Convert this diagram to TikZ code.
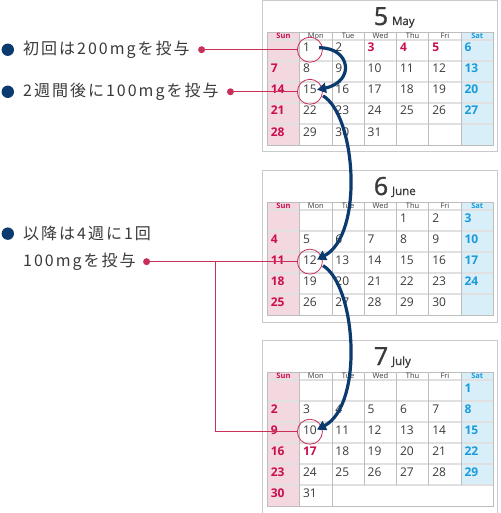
\documentclass[tikz,border=0pt]{standalone}
\usepackage{fontspec}
\setmainfont{Open Sans}
\newfontfamily\jp{Noto Sans CJK JP}[LetterSpace=12.5]
\newfontfamily\ttl{Open Sans}[FakeBold=1.2]
\usetikzlibrary{positioning,arrows.meta}
\definecolor{sunred}{HTML}{C8104E}
\definecolor{satblue}{HTML}{1A9BDB}
\definecolor{sunbg}{HTML}{F3D8E0}
\definecolor{satbg}{HTML}{D8EEF9}
\definecolor{navy}{HTML}{0B3A6F}
\definecolor{leadred}{HTML}{C8305A}
\definecolor{txtgray}{HTML}{3A3A3A}
\definecolor{gridgray}{HTML}{BDBDBD}
\definecolor{bandgray}{HTML}{E0E0E0}
\tikzset{
  sheet/.style={draw=gridgray!80, line width=1pt},
  band/.style={draw=bandgray, line width=2.4pt},
  grid/.style={draw=gridgray, line width=0.7pt},
  wday/.style={inner sep=0pt, font=\fontsize{7.5}{7.5}\selectfont},
  day/.style={anchor=base west, inner sep=0pt, font=\fontsize{12}{12}\selectfont},
  monthnum/.style={anchor=base, inner sep=0pt, text=txtgray, font=\ttl\fontsize{25}{25}\selectfont},
  monthname/.style={anchor=base west, inner sep=0pt, text=txtgray, font=\ttl\fontsize{11.5}{11.5}\selectfont},
  ring/.style={circle, draw=leadred, line width=0.8pt, minimum size=25pt, inner sep=0pt},
  bullet/.style={circle, fill=navy, minimum size=12.4pt, inner sep=0pt},
  reddot/.style={circle, fill=leadred, minimum size=7pt, inner sep=0pt},
  lbl/.style={anchor=west, inner sep=0pt, text=txtgray, font=\jp\fontsize{16}{16}\selectfont},
  lead/.style={draw=leadred, line width=0.8pt},
  jump/.style={draw=navy, line width=3.2pt, -{Triangle[length=9pt,width=10pt]}},
}
\begin{document}
\begin{tikzpicture}[x=1pt, y=-1pt]
\useasboundingbox (0,0) rectangle (500,513);
% the three month sheets
\foreach \ty/\mn/\mname/\off/\days/\rows/\pre in {0/5/May/1/31/5/m, 170/6/June/4/30/5/j, 340/7/July/6/31/6/l}{
  \pgfmathsetmacro\yb{\ty+40+21*\rows}
  \pgfmathtruncatemacro\rl{\rows-1}
  \draw[sheet] (262.5,\ty+0.5) rectangle (497.5,\yb+7);
  \fill[sunbg] (267.3,\ty+32) rectangle (299.6,\yb);
  \fill[satbg] (461.1,\ty+32) rectangle (493.4,\ty+145);
  \foreach \i in {0,...,\rl}
    \draw[band] (267.3,\ty+40+21*\i) -- (493.4,\ty+40+21*\i);
  \foreach \k in {1,...,6}
    \draw[grid] (267.3+32.3*\k,\ty+32) -- (267.3+32.3*\k,\ty+145);
  \ifnum\rows=6
    \draw[grid] (299.6,\ty+145) -- (299.6,\yb);
    \draw[grid] (331.9,\ty+145) -- (331.9,\yb);
  \fi
  \draw[grid] (267.3,\ty+32) rectangle (493.4,\yb);
  % weekday heads
  \foreach \w [count=\k from 0] in {Sun,Mon,Tue,Wed,Thu,Fri,Sat}{
    \def\hc{txtgray}\def\hw{}
    \ifnum\k=0 \def\hc{sunred}\def\hw{\bfseries}\fi
    \ifnum\k=6 \def\hc{satblue}\def\hw{\bfseries}\fi
    \node[wday, text=\hc] (\pre h\k) at (283.45+32.3*\k,\ty+36) {\hw\w};
  }
  % month title
  \node[monthnum] (\pre n) at (381,\ty+25) {\mn};
  \node[monthname] (\pre t) at ([xshift=3.5pt]\pre n.base east) {\mname};
  % day numbers
  \foreach \dn in {1,...,\days}{
    \pgfmathtruncatemacro\idx{\dn+\off-1}
    \pgfmathtruncatemacro\dc{mod(\idx,7)}
    \pgfmathtruncatemacro\dr{div(\idx,7)}
    \pgfmathtruncatemacro\hol{or(and(\mn==5,and(\dn>2,\dn<6)),and(\mn==7,\dn==17))}
    \def\dcol{txtgray}\def\dwt{}
    \ifnum\dc=0 \def\dcol{sunred}\def\dwt{\bfseries}\fi
    \ifnum\dc=6 \def\dcol{satblue}\def\dwt{\bfseries}\fi
    \ifnum\hol=1 \def\dcol{sunred}\def\dwt{\bfseries}\fi
    \node[day, text=\dcol] (\pre\dn) at (270.6+32.3*\dc,\ty+52+21*\dr) {\dwt\dn};
  }
}

% marked days
\node[ring] (r1) at ([xshift=7pt,yshift=-2pt]m1.west) {};
\node[ring] (r15) at ([xshift=7pt,yshift=-2pt]m15.west) {};
\node[ring] (r12) at ([xshift=7pt,yshift=-2pt]j12.west) {};
\node[ring] (r10) at ([xshift=7pt,yshift=-2pt]l10.west) {};

% dosing steps
\draw[jump] ([xshift=9pt]m1.east) .. controls +(32,0) and +(38,-8) .. (m15.east);
\draw[jump] ([xshift=6pt,yshift=-6pt]m15.east) .. controls +(33,20) and +(47,-25) .. (j12.east);
\draw[jump] ([xshift=6pt,yshift=-6pt]j12.east) .. controls +(33,20) and +(47,-25) .. (l10.east);

% labels
\coordinate (lx) at (23,0);
\coordinate (bx) at (7.8,0);
\coordinate (kx) at (215,0);
\node[lbl] (t1) at (r1 -| lx) {初回は200mgを投与};
\node[lbl] (t2) at (r15 -| lx) {2週間後に100mgを投与};
\node[lbl] (t4) at (r12 -| lx) {100mgを投与};
\node[lbl] (t3) at ([yshift=28pt]t4.west) {以降は4週に1回};
\node[bullet] (b1) at (t1 -| bx) {};
\node[bullet] (b2) at (t2 -| bx) {};
\node[bullet] (b3) at (t3 -| bx) {};
\node[reddot, right=8pt of t1] (p1) {};
\node[reddot, right=8pt of t2] (p2) {};
\node[reddot, right=7pt of t4] (p3) {};
\draw[lead] (p1) -- (p1 -| r1.west);
\draw[lead] (p2) -- (p2 -| r15.west);
\draw[lead] (p3) -- (p3 -| r12.west);
\draw[lead] (p3 -| kx) |- (r10.west);
\end{tikzpicture}
\end{document}
